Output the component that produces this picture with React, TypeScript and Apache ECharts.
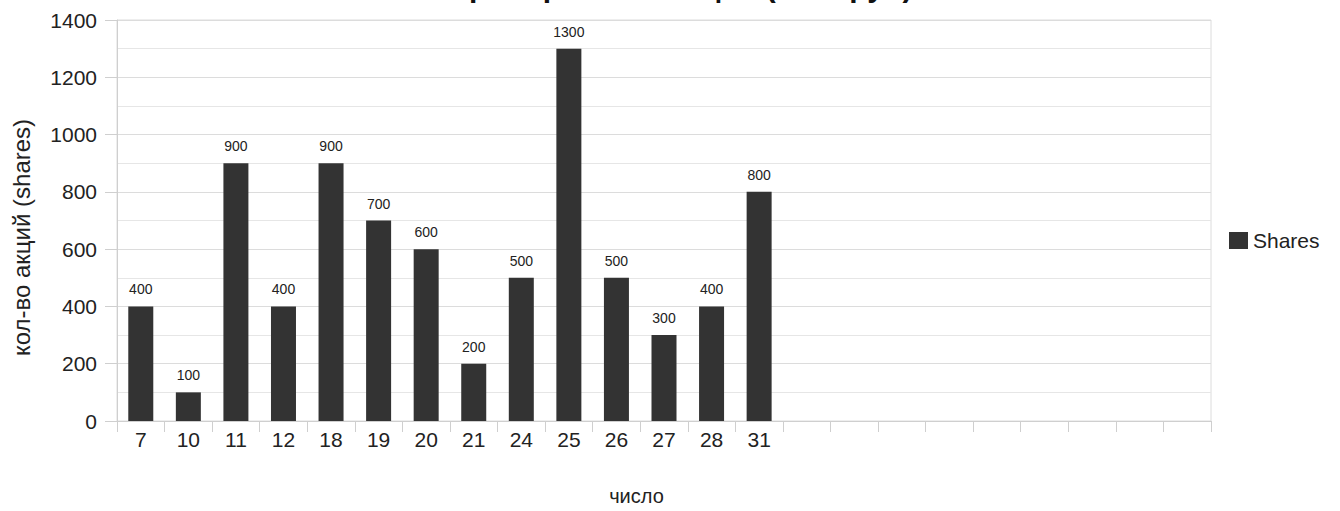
import React, { useEffect, useRef } from "react";
import * as echarts from "echarts";

const chartTitle = "Приобретение акций (тыс. руб)";
const days = ["7", "10", "11", "12", "18", "19", "20", "21", "24", "25", "26", "27", "28", "31"];
const shares = [400, 100, 900, 400, 900, 700, 600, 200, 500, 1300, 500, 300, 400, 800];
const emptySlotCount = 9;
const seriesName = "Shares";
const xName = "число";
const yName = "кол-во акций (shares)";

export default function App() {
  const ref = useRef<HTMLDivElement>(null);
  useEffect(() => {
    if (!ref.current) return;
    const chart = echarts.init(ref.current, null, { renderer: "svg" });
    const emptyNames: string[] = [];
    for (let i = 0; i < emptySlotCount; i++) emptyNames.push("__empty" + i);
    const categories = [...days, ...emptyNames];
    const values: (number | null)[] = [...shares, ...emptyNames.map(() => null)];
    const font = "'Liberation Sans', Arial, sans-serif";
    chart.setOption({
      animation: false,
      backgroundColor: "#ffffff",
      textStyle: { fontFamily: font },
      title: {
        text: chartTitle,
        left: 675,
        textAlign: "center",
        top: -34,
        textStyle: { fontFamily: font, fontSize: 30, fontWeight: "bold", color: "#111" },
      },
      legend: {
        show: true,
        left: 1224,
        top: 225,
        orient: "vertical",
        icon: "rect",
        itemWidth: 19,
        itemHeight: 17,
        itemGap: 6,
        textStyle: { fontFamily: font, fontSize: 21, color: "#222" },
        data: [seriesName],
      },
      grid: {
        left: 117,
        right: 129,
        top: 20,
        bottom: 90,
        show: true,
        borderColor: "#dcdcdc",
        borderWidth: 1,
        containLabel: false,
        outerBoundsMode: "none",
      },
      xAxis: {
        type: "category",
        data: categories,
        boundaryGap: true,
        name: xName,
        nameLocation: "middle",
        nameGap: 65,
        nameTextStyle: { fontFamily: font, fontSize: 20, color: "#222", padding: [0, 55, 0, 0] },
        axisLine: { show: true, lineStyle: { color: "#cfcfcf", width: 1 } },
        axisTick: { show: true, length: 11, alignWithLabel: false, lineStyle: { color: "#cfcfcf" } },
        axisLabel: {
          margin: 8,
          fontSize: 21,
          color: "#222",
          fontFamily: font,
          interval: 0,
          formatter: (v: string) => (v.indexOf("__empty") === 0 ? "" : v),
        },
        splitLine: { show: false },
      },
      yAxis: {
        type: "value",
        min: 0,
        max: 1400,
        interval: 200,
        name: yName,
        nameLocation: "middle",
        nameGap: 84,
        nameRotate: 90,
        nameTextStyle: { fontFamily: font, fontSize: 24, color: "#222", padding: [0, 34, 0, 0] },
        axisLine: { show: true, lineStyle: { color: "#cfcfcf", width: 1 } },
        axisTick: { show: true, length: 12, lineStyle: { color: "#cfcfcf" } },
        axisLabel: {
          margin: 20,
          fontSize: 21,
          color: "#222",
          fontFamily: font,
          formatter: (v: number) => String(v),
        },
        splitLine: { show: true, lineStyle: { color: "#dcdcdc", width: 1 } },
        minorTick: { show: false, splitNumber: 2 },
        minorSplitLine: { show: true, lineStyle: { color: "#e6e6e6", width: 1 } },
      },
      series: [
        {
          name: seriesName,
          type: "bar",
          data: values,
          barWidth: 25,
          itemStyle: { color: "#333333" },
          label: {
            show: true,
            position: "top",
            distance: 10,
            fontSize: 14,
            color: "#222",
            fontFamily: "'Liberation Sans Narrow', 'Liberation Sans', Arial, sans-serif",
          },
        },
      ],
    });
    return () => chart.dispose();
  }, []);
  return (
    <div
      ref={ref}
      style={{ position: "fixed", left: 0, top: 0, width: 1340, height: 511, background: "#fff" }}
    />
  );
}
